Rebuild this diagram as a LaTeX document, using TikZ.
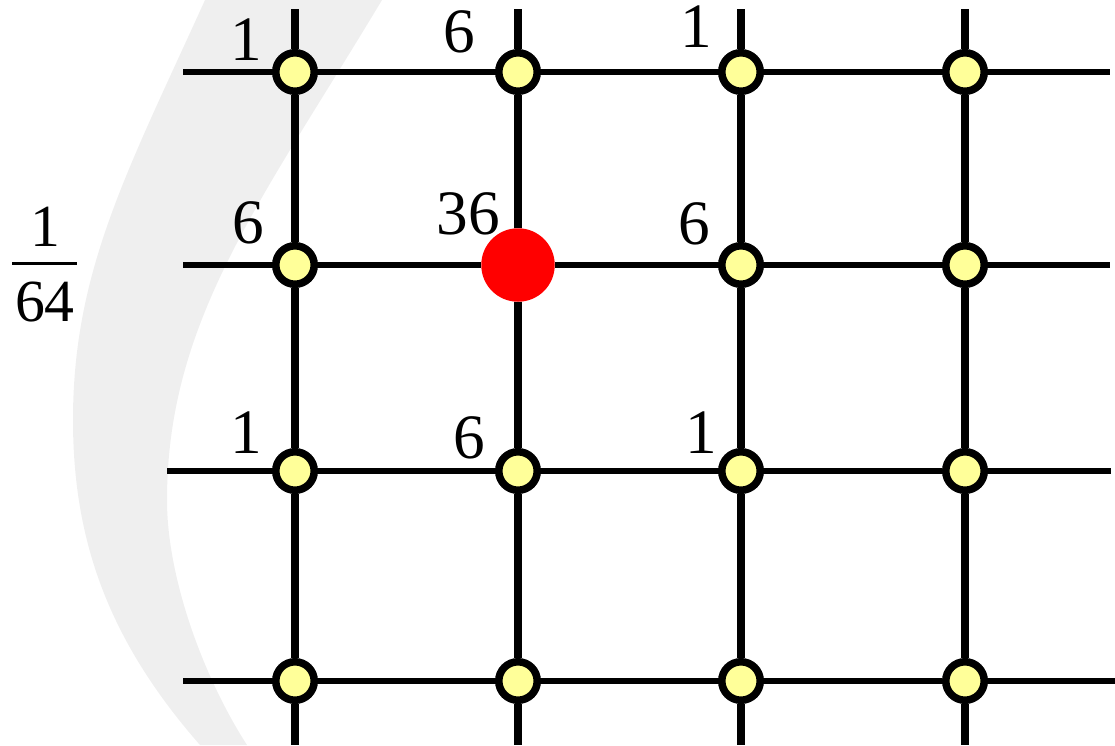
\documentclass[tikz,border=0pt]{standalone}
\usepackage{fontspec}
\setmainfont{Liberation Serif}
\usepackage{tikz}
\usetikzlibrary{positioning}

\definecolor{paleyellow}{RGB}{255,255,153}
\definecolor{crescentgray}{RGB}{239,239,239}

\begin{document}
\begin{tikzpicture}[
    x=0.02cm, y=-0.02cm,
    dotnode/.style={circle, draw, line width=4.3pt, fill=paleyellow, minimum size=0.77cm, inner sep=0pt},
    hotnode/.style={circle, fill=red, minimum size=1.47cm, inner sep=0pt},
    numlabel/.style={inner sep=0pt, font=\fontsize{36}{40}\selectfont},
    vline/.style={line width=4.6pt},
    hline/.style={line width=3.2pt}
]
\useasboundingbox (0,0) rectangle (1115,745);

% light background band
\fill[crescentgray] (205,0) .. controls (128,170) and (73,270) .. (73,420)
    .. controls (73,540) and (108,640) .. (200,745) -- (247,745)
    .. controls (205,680) and (167,580) .. (167,500)
    .. controls (167,320) and (262,200) .. (382,0) -- cycle;

% grid points
\node[dotnode] (n11) at (295,72) {};
\node[dotnode] (n12) at (518,72) {};
\node[dotnode] (n13) at (741,72) {};
\node[dotnode] (n14) at (965,72) {};
\node[dotnode] (n21) at (295,265) {};
\node[hotnode] (n22) at (518,265) {};
\node[dotnode] (n23) at (741,265) {};
\node[dotnode] (n24) at (965,265) {};
\node[dotnode] (n31) at (295,471) {};
\node[dotnode] (n32) at (518,471) {};
\node[dotnode] (n33) at (741,471) {};
\node[dotnode] (n34) at (965,471) {};
\node[dotnode] (n41) at (295,681) {};
\node[dotnode] (n42) at (518,681) {};
\node[dotnode] (n43) at (741,681) {};
\node[dotnode] (n44) at (965,681) {};

% free ends of the lines
\coordinate (t1) at (295,9);  \coordinate (b1) at (295,745);
\coordinate (t2) at (518,9);  \coordinate (b2) at (518,745);
\coordinate (t3) at (741,9);  \coordinate (b3) at (741,745);
\coordinate (t4) at (965,9);  \coordinate (b4) at (965,745);
\coordinate (l1) at (183,72);  \coordinate (r1) at (1110,72);
\coordinate (l2) at (183,265); \coordinate (r2) at (1110,265);
\coordinate (l3) at (167,471); \coordinate (r3) at (1111,471);
\coordinate (l4) at (183,681); \coordinate (r4) at (1115,681);

\draw[vline] (t1) -- (n11) -- (n21) -- (n31) -- (n41) -- (b1);
\draw[vline] (t2) -- (n12) -- (n22) -- (n32) -- (n42) -- (b2);
\draw[vline] (t3) -- (n13) -- (n23) -- (n33) -- (n43) -- (b3);
\draw[vline] (t4) -- (n14) -- (n24) -- (n34) -- (n44) -- (b4);
\draw[hline] (l1) -- (n11) -- (n12) -- (n13) -- (n14) -- (r1);
\draw[hline] (l2) -- (n21) -- (n22) -- (n23) -- (n24) -- (r2);
\draw[hline] (l3) -- (n31) -- (n32) -- (n33) -- (n34) -- (r3);
\draw[hline] (l4) -- (n41) -- (n42) -- (n43) -- (n44) -- (r4);

% weights
\node[numlabel] (w11) at (246,40) {1};
\node[numlabel] (w12) at (459,32) {6};
\node[numlabel] (w13) at (696,27) {1};
\node[numlabel] (w21) at (248,223) {6};
\node[numlabel] (w22) at (468,214) {36};
\node[numlabel] (w23) at (694,224) {6};
\node[numlabel] (w31) at (246,433) {1};
\node[numlabel] (w32) at (469,438) {6};
\node[numlabel] (w33) at (701,433) {1};

% normalising factor
\node[numlabel, font=\fontsize{34}{38}\selectfont] (fnum) at (45,227) {1};
\node[numlabel, font=\fontsize{34}{38}\selectfont] (fden) at (45,302) {64};
\coordinate (barl) at (12,263);
\coordinate (barr) at (77,263);
\draw[line width=1.7pt] (barl) -- (barr);
\end{tikzpicture}
\end{document}
